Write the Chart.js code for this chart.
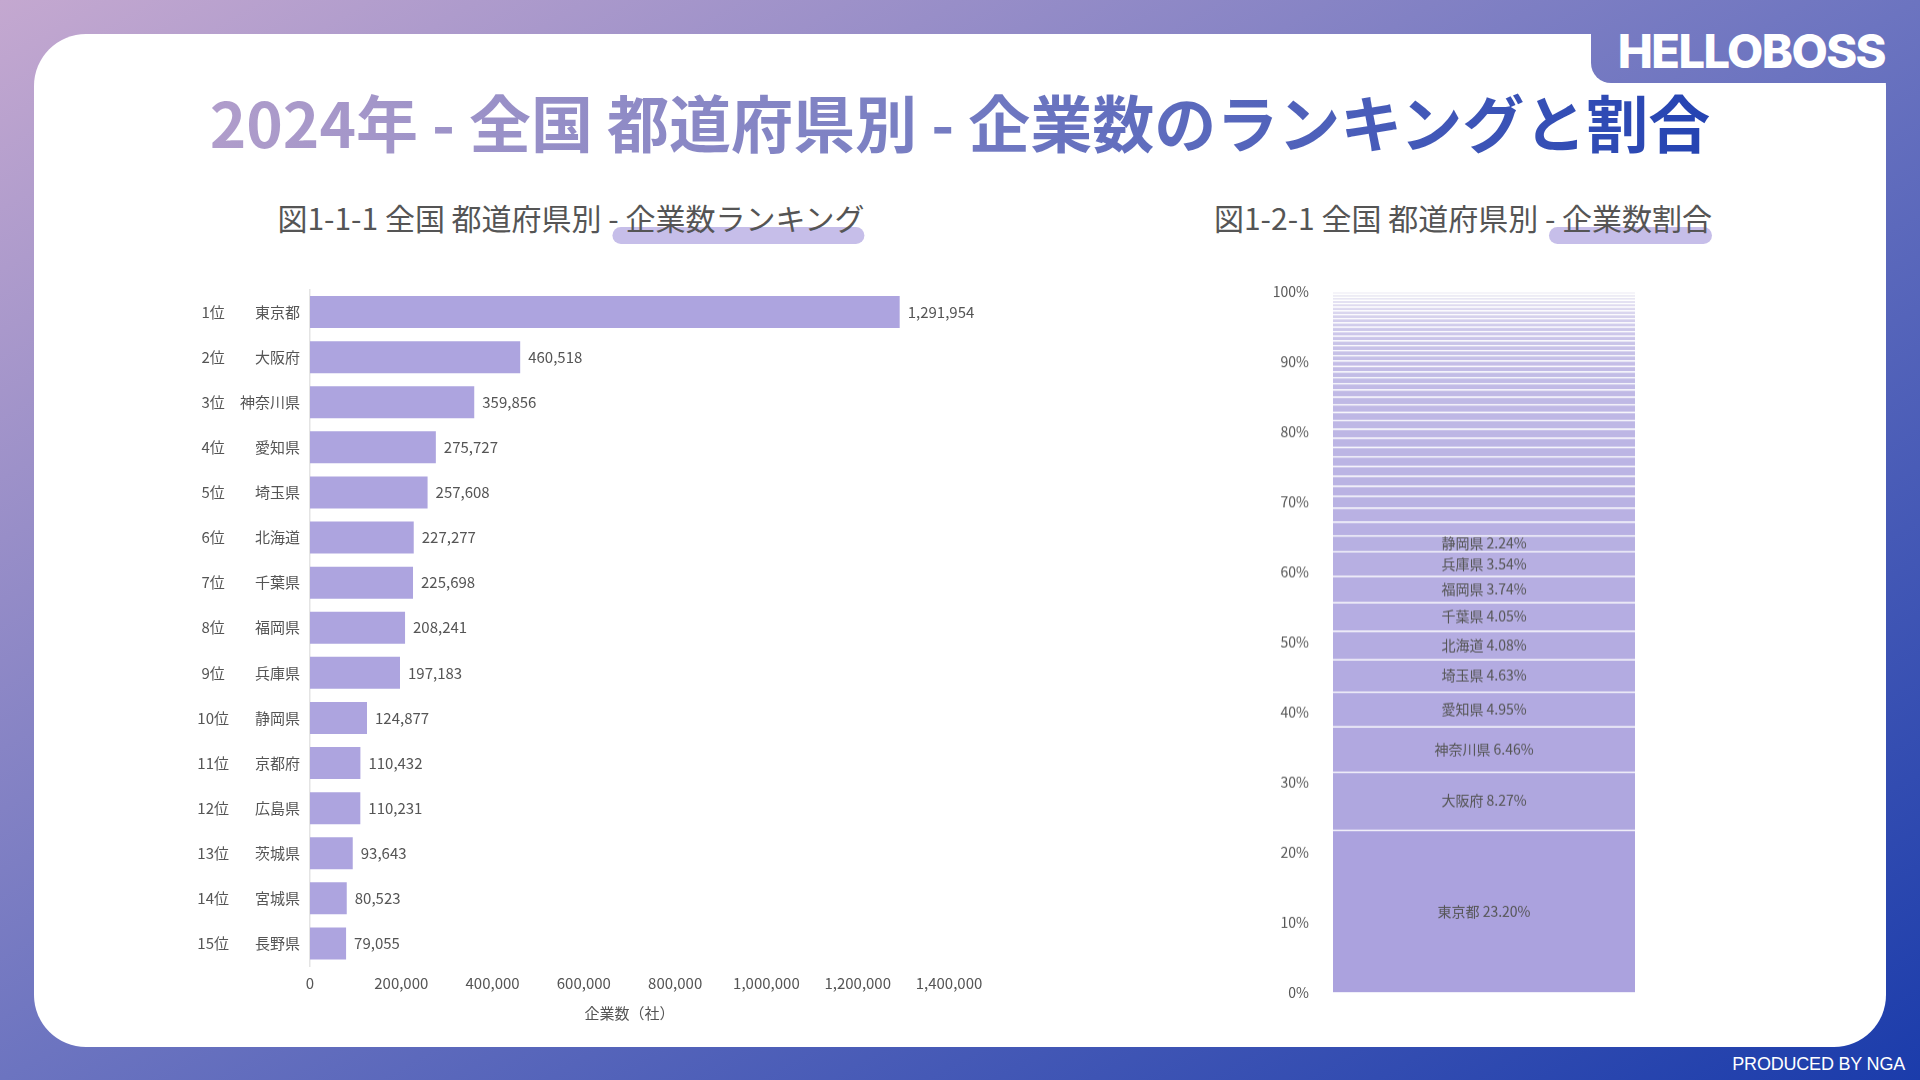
<!DOCTYPE html>
<html lang="ja">
<head>
<meta charset="utf-8">
<title>2024年 - 全国 都道府県別 - 企業数のランキングと割合</title>
<script src="https://cdn.jsdelivr.net/npm/chart.js@4.4.1/dist/chart.umd.min.js"></script>
<style>
  html, body { margin: 0; padding: 0; }
  body {
    width: 1920px; height: 1080px; overflow: hidden; position: relative;
    font-family: "Noto Sans CJK JP", "Noto Sans", sans-serif;
    background: linear-gradient(to bottom right, #c4a8d0 0%, #6c74c0 50%, #1b3cab 100%);
    background-attachment: fixed;
  }
  .card {
    position: absolute; left: 34px; top: 34px; width: 1852px; height: 1013px;
    background: #fff; border-radius: 52px;
  }
  .tab {
    position: absolute; left: 1591px; top: 0; width: 329px; height: 83px;
    border-bottom-left-radius: 20px;
    background: linear-gradient(to bottom right, #c4a8d0 0%, #6c74c0 50%, #1b3cab 100%);
    background-attachment: fixed;
  }
  .brand {
    position: absolute; right: 35px; top: 27px; line-height: 47px;
    font-family: Inter, sans-serif; font-weight: 800; font-size: 47px;
    letter-spacing: -1.6px; color: #fff;
  }
  .credit {
    position: absolute; right: 15px; top: 1055px; line-height: 18px;
    font-family: "Liberation Sans", Arial, sans-serif; font-size: 18px; letter-spacing: -0.2px; color: #fff;
  }
  .title {
    position: absolute; left: 0; width: 1920px; top: 90px; height: 62px; line-height: 62px;
    text-align: center; font-size: 62px; font-weight: 700;
  }
  .title span {
    background: linear-gradient(90deg, #b09dcb 0%, #7b80c3 45%, #2443b2 100%);
    -webkit-background-clip: text; background-clip: text; color: transparent;
  }
  .sub {
    position: absolute; top: 197px; height: 40px; line-height: 40px;
    font-size: 30px; color: #555; white-space: nowrap; transform: translateX(-50%);
  }
  .sub .hl { display: inline-block; position: relative; z-index: 0; }
  .sub .hl::after {
    content: ""; position: absolute; left: -13px; right: 0; top: 30px; height: 17px;
    border-radius: 9px; background: #c6bee9; z-index: -1;
  }
  .box { position: absolute; }
</style>
</head>
<body>
<div class="card"></div>
<div class="tab"></div>
<div class="brand">HELLOBOSS</div>
<div class="credit">PRODUCED BY NGA</div>

<div class="title"><span>2024年 - 全国 都道府県別 - 企業数のランキングと割合</span></div>
<div class="sub" style="left:571px">図1-1-1 全国 都道府県別 - <span class="hl">企業数ランキング</span></div>
<div class="sub" style="left:1463px">図1-2-1 全国 都道府県別 - <span class="hl">企業数割合</span></div>

<div class="box" style="left:150px; top:270px; width:910px; height:756px"><canvas id="rankChart"></canvas></div>
<div class="box" style="left:1240px; top:259.3px; width:440px; height:764.8px"><canvas id="shareChart"></canvas></div>

<script>
// 都道府県（企業数の多い順）
const prefNames = ['東京都', '大阪府', '神奈川県', '愛知県', '埼玉県', '北海道', '千葉県', '福岡県', '兵庫県', '静岡県',
  '京都府', '広島県', '茨城県', '宮城県', '長野県', '新潟県', '岐阜県', '群馬県', '栃木県', '岡山県',
  '三重県', '熊本県', '鹿児島県', '沖縄県', '福島県', '山口県', '愛媛県', '長崎県', '滋賀県', '奈良県',
  '石川県', '富山県', '大分県', '青森県', '岩手県', '山形県', '香川県', '宮崎県', '和歌山県', '秋田県',
  '福井県', '山梨県', '徳島県', '佐賀県', '高知県', '島根県', '鳥取県']

// 企業数（社） 16位以降は図1-2-1から読み取った推定値
const companyCounts = [1291954, 460518, 359856, 275727, 257608, 227277, 225698, 208241, 197183, 124877,
  110432, 110231, 93643, 80523, 79055, 78000, 76500, 74800, 73200, 72000,
  68500, 64000, 61500, 59800, 58000, 49000, 47500, 46000, 44500, 43000,
  42200, 40500, 39200, 38000, 37000, 36200, 35500, 34800, 34000, 31000,
  30300, 29800, 27500, 26200, 24500, 22500, 19800]

const rankLabels = ['1位', '2位', '3位', '4位', '5位', '6位', '7位', '8位', '9位', '10位', '11位', '12位', '13位', '14位', '15位']
const countTicks = [0, 200000, 400000, 600000, 800000, 1000000, 1200000, 1400000]
const shareTicks = [0, 10, 20, 30, 40, 50, 60, 70, 80, 90, 100]

const topN = rankLabels.length
const labelledShares = 10

Chart.defaults.font.family = '"Noto Sans CJK JP", "Noto Sans", sans-serif'
Chart.defaults.font.size = 15
Chart.defaults.color = '#555'

const fmt = v => v.toLocaleString('en-US')
const total = companyCounts.reduce((a, b) => a + b, 0)
const shares = companyCounts.map(v => v / total * 100)

// lighter shade for each lower rank
function shade (i) {
  const t = i / (prefNames.length - 1)
  const f = 0.35 * Math.sqrt(t) + 0.55 * Math.pow(t, 6)
  const base = [171, 162, 222]
  const c = base.map(b => Math.round(b + (250 - b) * f))
  return 'rgb(' + c.join(',') + ')'
}

const barValueLabels = {
  id: 'barValueLabels',
  afterDatasetsDraw (chart) {
    const ctx = chart.ctx
    const meta = chart.getDatasetMeta(0)
    ctx.save()
    ctx.font = '15px ' + Chart.defaults.font.family
    ctx.fillStyle = '#555'
    ctx.textAlign = 'left'
    ctx.textBaseline = 'middle'
    meta.data.forEach((bar, i) => {
      ctx.fillText(fmt(chart.data.datasets[0].data[i]), bar.x + 8, bar.y)
    })
    ctx.restore()
  }
}

new Chart(document.getElementById('rankChart').getContext('2d'), {
  type: 'bar',
  data: {
    labels: prefNames.slice(0, topN),
    datasets: [{
      data: companyCounts.slice(0, topN),
      backgroundColor: '#ada4df',
      borderWidth: 0,
      barPercentage: 0.71,
      categoryPercentage: 1
    }]
  },
  options: {
    indexAxis: 'y',
    responsive: true,
    maintainAspectRatio: false,
    animation: false,
    layout: { padding: { top: 19.5, bottom: 0, left: 0, right: 111 } },
    scales: {
      x: {
        min: 0,
        max: 1400000,
        afterBuildTicks: scale => { scale.ticks = countTicks.map(v => ({ value: v })) },
        afterFit: scale => { scale.height = 60 },
        ticks: { padding: 8, callback: v => fmt(v) },
        grid: { display: false, drawTicks: false },
        border: { display: false },
        title: {
          display: true,
          text: '企業数（社）',
          color: '#555',
          font: { size: 15 },
          padding: { top: 4, bottom: 4 }
        }
      },
      y: {
        weight: 0,
        afterFit: scale => { scale.width = 75 },
        ticks: { padding: 10 },
        grid: { display: false, drawTicks: false },
        border: { display: true, color: '#e4e4e4', width: 1.5 }
      },
      y2: {
        type: 'category',
        labels: rankLabels,
        position: 'left',
        offset: true,
        weight: 1,
        afterFit: scale => { scale.width = 85 },
        ticks: { padding: 6, crossAlign: 'center' },
        grid: { display: false, drawTicks: false },
        border: { display: false }
      }
    },
    plugins: {
      legend: { display: false },
      tooltip: { enabled: false }
    }
  },
  plugins: [barValueLabels]
})

const segmentLabels = {
  id: 'segmentLabels',
  afterDatasetsDraw (chart) {
    const ctx = chart.ctx
    ctx.save()
    ctx.font = '14px ' + Chart.defaults.font.family
    ctx.fillStyle = '#555'
    ctx.textAlign = 'center'
    ctx.textBaseline = 'middle'
    for (let i = 0; i < labelledShares; i++) {
      const el = chart.getDatasetMeta(i).data[0]
      const { x, y, base } = el.getProps(['x', 'y', 'base'], true)
      ctx.fillText(prefNames[i] + ' ' + shares[i].toFixed(2) + '%', x, (y + base) / 2)
    }
    ctx.restore()
  }
}

new Chart(document.getElementById('shareChart').getContext('2d'), {
  type: 'bar',
  data: {
    labels: ['全国'],
    datasets: prefNames.map((name, i) => ({
      label: name,
      data: [shares[i]],
      backgroundColor: shade(i),
      borderColor: '#ffffff',
      borderWidth: { top: 1.5, bottom: 0, left: 0, right: 0 },
      borderSkipped: false,
      barPercentage: 1,
      categoryPercentage: 1
    }))
  },
  options: {
    responsive: true,
    maintainAspectRatio: false,
    animation: false,
    layout: { padding: { top: 0, bottom: 0, left: 0, right: 45 } },
    scales: {
      x: { stacked: true, display: false },
      y: {
        stacked: true,
        min: 0,
        max: 100,
        afterBuildTicks: scale => { scale.ticks = shareTicks.map(v => ({ value: v })) },
        afterFit: scale => { scale.width = 93 },
        ticks: { padding: 24, font: { size: 14 }, callback: v => v + '%' },
        grid: { display: false, drawTicks: false },
        border: { display: false }
      }
    },
    plugins: {
      legend: { display: false },
      tooltip: { enabled: false }
    }
  },
  plugins: [segmentLabels]
})
</script>
</body>
</html>
